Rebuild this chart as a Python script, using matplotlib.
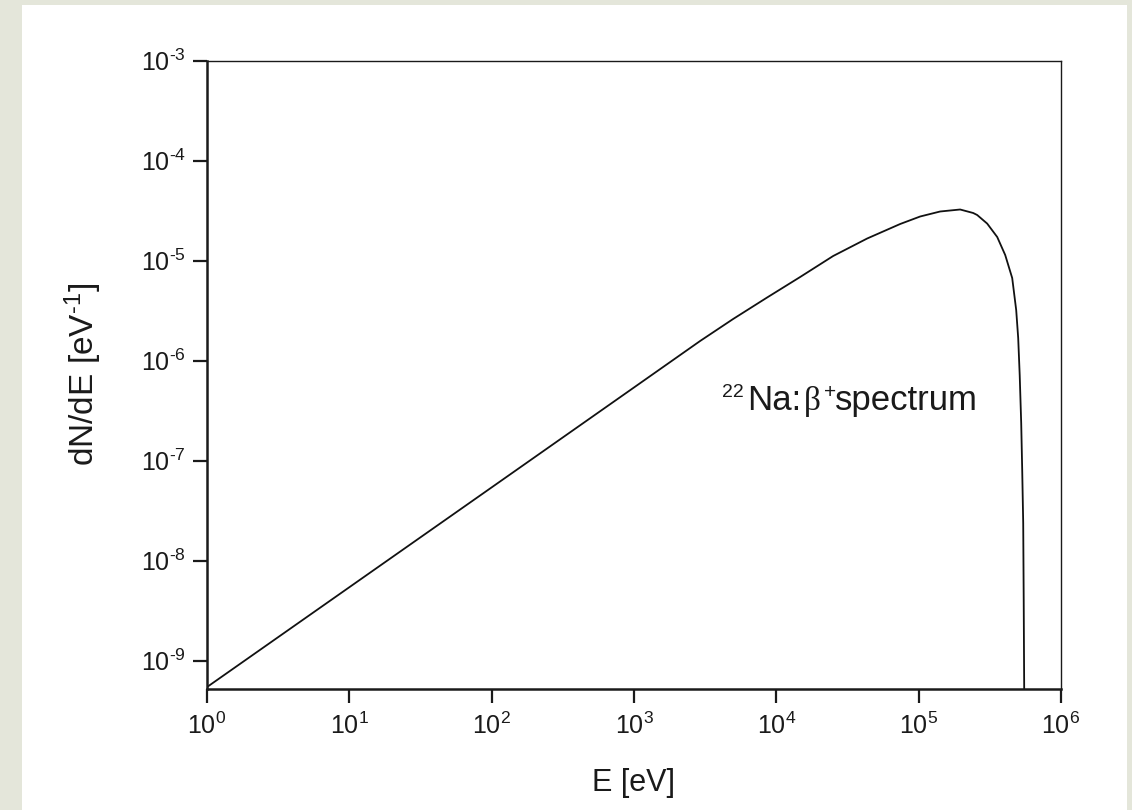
import matplotlib
matplotlib.use("Agg")
import matplotlib.pyplot as plt
from matplotlib.patches import Rectangle
from matplotlib.ticker import FixedLocator, FixedFormatter, NullLocator

plt.rcParams['font.family'] = ['Liberation Sans', 'DejaVu Sans']
plt.rcParams['mathtext.fontset'] = 'custom'
plt.rcParams['mathtext.rm'] = 'Liberation Sans'
plt.rcParams['mathtext.it'] = 'Liberation Sans:italic'
plt.rcParams['mathtext.bf'] = 'Liberation Sans:bold'

# ---- data ----
energy_eV = [1.0, 10.0, 100.0, 1000.0, 2914, 4970, 8614, 14700, 25070, 43470,
             74130, 1.0245e5, 1.416e5, 1.956e5, 2.415e5, 2.577e5, 3.03e5, 3.563e5, 4.055e5,
             4.541e5, 4.844e5, 5.003e5, 5.127e5, 5.253e5, 5.339e5, 5.426e5, 5.47e5,
             5.514e5, 5.514e5]
dNdE = [5.45e-10, 5.43e-9, 5.41e-8, 5.40e-7, 1.574e-6, 2.612e-6, 4.285e-6, 6.87e-6,
        1.114e-5, 1.667e-5, 2.328e-5, 2.767e-5, 3.105e-5, 3.251e-5, 3.0e-5, 2.864e-5, 2.35e-5,
        1.726e-5, 1.14e-5, 6.71e-6, 3.21e-6, 1.686e-6, 7.19e-7, 2.38e-7, 8.07e-8,
        2.38e-8, 4.05e-9, 5e-10, 1e-11]

x_ticks = [1e0, 1e1, 1e2, 1e3, 1e4, 1e5, 1e6]
x_tick_labels = [r'$\mathregular{10^{0}}$', r'$\mathregular{10^{1}}$', r'$\mathregular{10^{2}}$',
                 r'$\mathregular{10^{3}}$', r'$\mathregular{10^{4}}$', r'$\mathregular{10^{5}}$',
                 r'$\mathregular{10^{6}}$']
y_ticks = [1e-9, 1e-8, 1e-7, 1e-6, 1e-5, 1e-4, 1e-3]
y_tick_labels = [r'$\mathregular{10^{\text{-}9}}$', r'$\mathregular{10^{\text{-}8}}$',
                 r'$\mathregular{10^{\text{-}7}}$', r'$\mathregular{10^{\text{-}6}}$',
                 r'$\mathregular{10^{\text{-}5}}$', r'$\mathregular{10^{\text{-}4}}$',
                 r'$\mathregular{10^{\text{-}3}}$']
x_label = 'E [eV]'
y_label = r'dN/dE [eV$^{\text{-}1}$]'
annotation_parts = ['22', 'Na:', 'β', '+', 'spectrum']

# ---- figure ----
W, H = 1132, 810
fig = plt.figure(figsize=(W / 100, H / 100), dpi=100)
fig.patch.set_facecolor('#e4e6da')
fig.patches.append(Rectangle((22 / W, 0), (1127 - 22) / W, (H - 5) / H,
                             transform=fig.transFigure, facecolor='white',
                             edgecolor='none', zorder=-10))

ax_l, ax_r, ax_t, ax_b = 207, 1061, 60.7, 689
ax = fig.add_axes([ax_l / W, (H - ax_b) / H, (ax_r - ax_l) / W, (ax_b - ax_t) / H])
ax.set_facecolor('white')

ax.plot(energy_eV, dNdE, color='#111111', lw=1.3, solid_joinstyle='round')

ax.set_xscale('log')
ax.set_yscale('log')
ax.set_xlim(1, 1e6)
ax.set_ylim(10 ** -9.283, 1e-3)

ax.xaxis.set_major_locator(FixedLocator(x_ticks))
ax.xaxis.set_major_formatter(FixedFormatter(x_tick_labels))
ax.yaxis.set_major_locator(FixedLocator(y_ticks))
ax.yaxis.set_major_formatter(FixedFormatter(y_tick_labels))
ax.xaxis.set_minor_locator(NullLocator())
ax.yaxis.set_minor_locator(NullLocator())

ax.tick_params(axis='both', which='major', direction='out', length=10, width=1.6,
               labelsize=18, colors='#1a1a1a', top=False, right=False)
ax.tick_params(axis='x', pad=7)
ax.tick_params(axis='y', pad=5)

for side in ('left', 'bottom'):
    ax.spines[side].set_linewidth(1.8)
    ax.spines[side].set_color('#1a1a1a')
for side in ('top', 'right'):
    ax.spines[side].set_linewidth(1.0)
    ax.spines[side].set_color('#1a1a1a')

ax.set_xlabel(x_label, fontsize=22, color='#1a1a1a')
ax.set_ylabel(y_label, fontsize=24, color='#1a1a1a')
ax.xaxis.set_label_coords(0.5, (ax_b - 768) / (ax_b - ax_t))
ax.yaxis.set_label_coords((104 - ax_l) / (ax_r - ax_l), 0.5)

# annotation, pieces placed at the pixel positions seen in the reference
def ftext(px, py, s, size, **kw):
    fig.text(px / W, (H - py) / H, s, fontsize=size, color='#1a1a1a',
             ha='left', va='baseline', **kw)

ftext(722, 397, annotation_parts[0], 14)
ftext(747, 410, annotation_parts[1], 25)
ftext(804, 410, annotation_parts[2], 24, family=['Liberation Serif', 'DejaVu Serif'])
ftext(824, 398, annotation_parts[3], 15)
ftext(835, 410, annotation_parts[4], 25)

fig.savefig('out.png', dpi=100, facecolor=fig.get_facecolor())
